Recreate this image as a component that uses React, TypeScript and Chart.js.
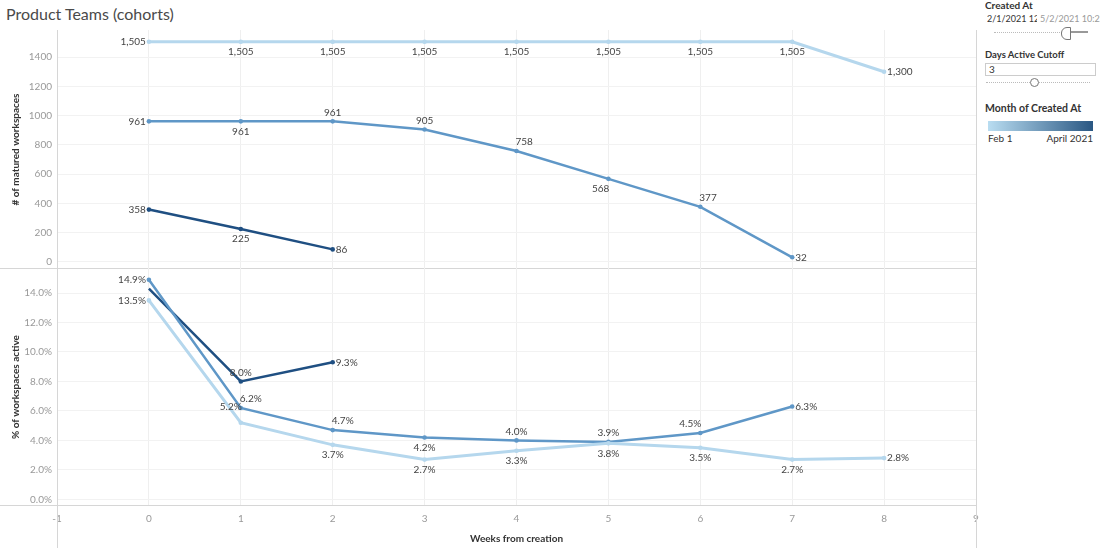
import React, { useEffect, useRef } from "react";
import { Chart, registerables } from "chart.js";
Chart.register(...registerables);

const FONT = "Lato, 'Open Sans', sans-serif";

const weeks = [0, 1, 2, 3, 4, 5, 6, 7, 8];
const febMatured = [1505, 1505, 1505, 1505, 1505, 1505, 1505, 1505, 1300];
const marMatured = [961, 961, 961, 905, 758, 568, 377, 32];
const aprMatured = [358, 225, 86];
const febActive = [13.5, 5.2, 3.7, 2.7, 3.3, 3.8, 3.5, 2.7, 2.8];
const marActive = [14.9, 6.2, 4.7, 4.2, 4.0, 3.9, 4.5, 6.3];
const aprActive = [14.3, 8.0, 9.3];
const maturedTicks = [0, 200, 400, 600, 800, 1000, 1200, 1400];
const activeTicks = [0, 2, 4, 6, 8, 10, 12, 14];
const xTicks = [-1, 0, 1, 2, 3, 4, 5, 6, 7, 8, 9];

const febMaturedPos = ["L", "B", "B", "B", "B", "B", "B", "B", "R"];
const marMaturedPos = ["L", "B", "T", "T", "TR", "BL", "TR", "R"];
const aprMaturedPos = ["L", "B", "R"];
const febActivePos = ["L", "TL2", "B", "B", "B", "B", "B", "B", "R"];
const marActivePos = ["L", "TR", "TR", "B", "T", "T", "TL", "R"];
const aprActivePos = [null, "T", "R"];

const LIGHT = "#b5d7ed";
const MID = "#5f97c7";
const DARK = "#1f4f82";

function pts(vals: number[]) {
  return vals.map((v, i) => ({ x: weeks[i], y: v }));
}

function makeLabelPlugin(positions: (string | null)[][], fmt: (v: number) => string) {
  return {
    id: "ptLabels",
    afterDatasetsDraw(chart: any) {
      const ctx = chart.ctx;
      ctx.save();
      ctx.font = `10px ${FONT}`;
      ctx.fillStyle = "#444";
      ctx.textBaseline = "middle";
      chart.data.datasets.forEach((ds: any, i: number) => {
        const meta = chart.getDatasetMeta(i);
        meta.data.forEach((el: any, j: number) => {
          const p = positions[i][j];
          if (!p) return;
          const txt = fmt(ds.data[j].y);
          let x = el.x;
          let y = el.y;
          let align = "center";
          switch (p) {
            case "L": align = "right"; x -= 3; break;
            case "R": align = "left"; x += 3; break;
            case "T": y -= 9; break;
            case "B": y += 10; break;
            case "TR": align = "left"; x -= 1; y -= 9; break;
            case "TL": align = "right"; x += 1; y -= 9; break;
            case "TL2": align = "right"; x += 1; y -= 16; break;
            case "BL": align = "right"; x += 1; y += 10; break;
            case "BR": align = "left"; x -= 1; y += 10; break;
          }
          ctx.textAlign = align;
          ctx.fillText(txt, x, y);
        });
      });
      ctx.restore();
    },
  };
}

function makeFramePlugin(bottomCut: number) {
  return {
    id: "frame",
    beforeDatasetsDraw(chart: any) {
      const { ctx } = chart;
      const { left, right, top, bottom } = chart.chartArea;
      ctx.save();
      ctx.strokeStyle = "#d6d6d6";
      ctx.lineWidth = 1;
      ctx.beginPath();
      ctx.moveTo(0, Math.round(bottom) - 0.5);
      ctx.lineTo(right, Math.round(bottom) - 0.5);
      ctx.moveTo(Math.round(left) + 0.5, top);
      ctx.lineTo(Math.round(left) + 0.5, chart.height - bottomCut);
      ctx.moveTo(Math.round(right) + 0.5, top);
      ctx.lineTo(Math.round(right) + 0.5, chart.height - bottomCut);
      ctx.stroke();
      ctx.restore();
    },
  };
}

function lineDs(data: number[], color: string, width: number, radii?: number[]) {
  return {
    data: pts(data),
    borderColor: color,
    backgroundColor: color,
    borderWidth: width,
    pointRadius: radii || 2.3,
    pointBorderWidth: 0,
    pointBackgroundColor: color,
    tension: 0,
  };
}

function xScale(showTicks: boolean) {
  return {
    type: "linear" as const,
    min: -1,
    max: 9,
    afterBuildTicks: (s: any) => {
      s.ticks = xTicks.map((v) => ({ value: v }));
    },
    afterFit: (s: any) => {
      s.paddingLeft = 0;
      s.paddingRight = 0;
      s.height = showTicks ? 46 : 0;
    },
    grid: { color: "#efefef", drawTicks: false },
    border: { display: false },
    ticks: {
      display: showTicks,
      color: "#999",
      padding: 7,
      font: { family: FONT, size: 10 },
    },
    title: showTicks
      ? {
          display: true,
          text: "Weeks from creation",
          color: "#333",
          font: { family: FONT, size: 10, weight: "bold" as const },
          padding: { top: 4, bottom: 7 },
        }
      : { display: false },
  };
}

function yScale(min: number, max: number, ticks: number[], title: string, fmt: (v: number) => string) {
  return {
    type: "linear" as const,
    min,
    max,
    afterBuildTicks: (s: any) => {
      s.ticks = ticks.map((v) => ({ value: v }));
    },
    afterFit: (s: any) => {
      s.width = 57;
      s.paddingTop = 0;
      s.paddingBottom = 0;
    },
    grid: { color: "#f2f2f2", drawTicks: false },
    border: { display: false },
    ticks: {
      color: "#999",
      padding: 5,
      font: { family: FONT, size: 10 },
      callback: (v: any) => fmt(Number(v)),
    },
    title: {
      display: true,
      text: title,
      color: "#333",
      font: { family: FONT, size: 10, weight: "bold" as const },
      padding: { top: 10, bottom: 0 },
    },
  };
}

function baseOptions() {
  return {
    animation: false as const,
    responsive: false,
    devicePixelRatio: 1,
    layout: { autoPadding: false, padding: { left: 0, right: 4, top: 0, bottom: 0 } },
    plugins: { legend: { display: false }, tooltip: { enabled: false } },
  };
}

function TopChart() {
  const ref = useRef<HTMLCanvasElement>(null);
  useEffect(() => {
    const chart = new Chart(ref.current!, {
      type: "line",
      data: {
        datasets: [
          lineDs(febMatured, LIGHT, 3),
          lineDs(marMatured, MID, 2.5),
          lineDs(aprMatured, DARK, 2.5),
        ] as any,
      },
      options: {
        ...baseOptions(),
        scales: {
          x: xScale(false) as any,
          y: yScale(-48, 1585, maturedTicks, "# of matured workspaces", (v) => String(v)) as any,
        },
      } as any,
      plugins: [
        makeFramePlugin(0),
        makeLabelPlugin([febMaturedPos, marMaturedPos, aprMaturedPos], (v) => v.toLocaleString("en-US")),
      ],
    });
    return () => chart.destroy();
  }, []);
  return <canvas ref={ref} width={980} height={239} style={{ width: 980, height: 239, display: "block" }} />;
}

function BottomChart() {
  const ref = useRef<HTMLCanvasElement>(null);
  useEffect(() => {
    const chart = new Chart(ref.current!, {
      type: "line",
      data: {
        datasets: [
          lineDs(febActive, LIGHT, 3),
          lineDs(marActive, MID, 2.5),
          lineDs(aprActive, DARK, 2.5, [0, 2.3, 2.3]),
        ] as any,
      },
      options: {
        ...baseOptions(),
        scales: {
          x: xScale(true) as any,
          y: yScale(-0.45, 15.7, activeTicks, "% of workspaces active", (v) => v.toFixed(1) + "%") as any,
        },
      } as any,
      plugins: [
        makeFramePlugin(4),
        makeLabelPlugin([febActivePos, marActivePos, aprActivePos], (v) => v.toFixed(1) + "%"),
      ],
    });
    return () => chart.destroy();
  }, []);
  return <canvas ref={ref} width={980} height={284} style={{ width: 980, height: 284, display: "block" }} />;
}

function SidePanel() {
  const bold = { fontWeight: 700 as const, color: "#333", fontSize: 10, position: "absolute" as const, left: 0, whiteSpace: "nowrap" as const };
  return (
    <div style={{ position: "absolute", left: 985, top: 0, width: 115, height: 552, fontFamily: FONT, fontSize: 10, color: "#333", overflow: "hidden" }}>
      <div style={{ ...bold, top: -1 }}>Created At</div>
      <div style={{ position: "absolute", top: 13, left: 2, whiteSpace: "nowrap", width: 50, overflow: "hidden", fontSize: 9 }}>2/1/2021 12:00</div>
      <div style={{ position: "absolute", top: 13, left: 55, whiteSpace: "nowrap", color: "#999", fontSize: 9 }}>5/2/2021 10:22</div>
      <div style={{ position: "absolute", top: 32, left: 9, width: 72, height: 0, borderTop: "1px dotted #bbb" }} />
      <div style={{ position: "absolute", top: 31, left: 85, width: 18, height: 2, background: "#999" }} />
      <div style={{ position: "absolute", top: 27, left: 76, width: 8, height: 11, borderRadius: "6px 0 0 6px", border: "1px solid #777", background: "#fff" }} />
      <div style={{ ...bold, top: 49, fontSize: 9.5 }}>Days Active Cutoff</div>
      <div style={{ position: "absolute", top: 63, left: 0, width: 106, height: 11, border: "1px solid #ccc", background: "#fff", lineHeight: "11px", paddingLeft: 3, boxSizing: "content-box" }}>3</div>
      <div style={{ position: "absolute", top: 82, left: 1, width: 104, height: 0, borderTop: "1px dotted #bbb" }} />
      <div style={{ position: "absolute", top: 78, left: 45, width: 7, height: 7, borderRadius: "50%", border: "1px solid #777", background: "#fff" }} />
      <div style={{ ...bold, top: 102, fontSize: 10.5 }}>Month of Created At</div>
      <div style={{ position: "absolute", top: 121, left: 3, width: 105, height: 10, background: "linear-gradient(to right, #b9ddf1, #2a5783)" }} />
      <div style={{ position: "absolute", top: 132, left: 3 }}>Feb 1</div>
      <div style={{ position: "absolute", top: 132, left: 3, width: 105, textAlign: "right" }}>April 2021</div>
    </div>
  );
}

export default function App() {
  return (
    <div style={{ position: "absolute", left: 0, top: 0, width: 1100, height: 552, background: "#fff", overflow: "hidden" }}>
      <div style={{ position: "absolute", left: 6, top: 4, fontFamily: FONT, fontSize: 16, color: "#4a4a4a", whiteSpace: "nowrap" }}>
        Product Teams (cohorts)
      </div>
      <div style={{ position: "absolute", left: 0, top: 30 }}>
        <TopChart />
      </div>
      <div style={{ position: "absolute", left: 0, top: 268 }}>
        <BottomChart />
      </div>
      <SidePanel />
    </div>
  );
}
